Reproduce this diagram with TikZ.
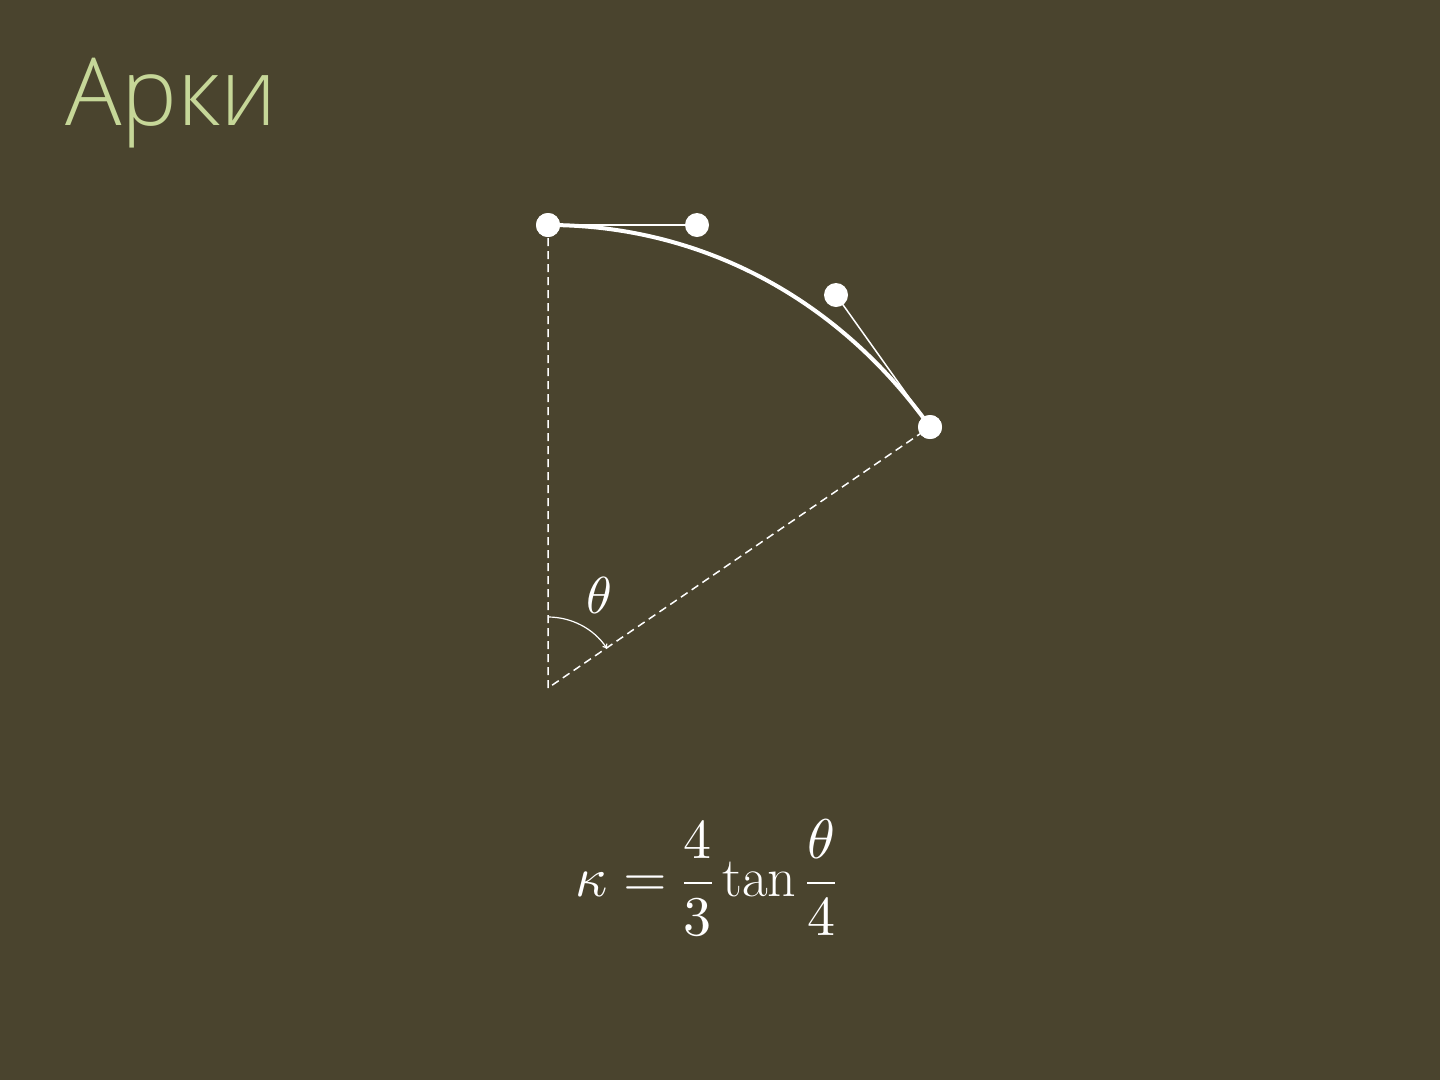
\documentclass[tikz,border=0pt]{standalone}
\usepackage{fontspec}
\usepackage{unicode-math}
\setmathfont{Latin Modern Math}
\newfontfamily\titlefont{Open Sans Light}
\usetikzlibrary{arrows.meta}
\definecolor{bg}{RGB}{74,68,46}
\definecolor{titlegreen}{RGB}{198,215,152}
\tikzset{
  dot/.style={circle,fill=white,inner sep=0pt,minimum size=24pt},
  dashline/.style={white,line width=1.5pt,dash pattern=on 8pt off 5pt},
  handle/.style={white,line width=1.5pt},
  arcline/.style={white,line width=4pt},
  mathlbl/.style={white,font=\fontsize{52}{60}\selectfont},
  formulalbl/.style={white,font=\fontsize{56}{64}\selectfont}
}
\begin{document}
\begin{tikzpicture}[x=1pt,y=-1pt]
\fill[bg] (0,0) rectangle (1440,1080);
\useasboundingbox (0,0) rectangle (1440,1080);
\node[anchor=base west,inner sep=0pt,text=titlegreen,font=\titlefont\fontsize{94}{110}\selectfont] (title) at (65,125) {Арки};
\coordinate (O) at (548,688);
\node[dot] (A) at (548,225) {};
\node[dot] (C1) at (697,225) {};
\node[dot] (C2) at (836,295) {};
\node[dot] (B) at (930,427) {};
\draw[dashline] (A.center) -- (O) -- (B.center);
\draw[handle] (A.center) -- (C1.center);
\draw[handle] (B.center) -- (C2.center);
\draw[arcline] (A.center) .. controls (C1.center) and (C2.center) .. (B.center);
\node[dot] at (A) {};
\node[dot] at (B) {};
\coordinate (angstart) at (548,617);
\draw[white,line width=1.2pt,-{Straight Barb[length=3pt,width=5pt]}] (angstart) arc[start angle=-90,end angle=-34,radius=71];
\node[mathlbl] (theta) at (599,595) {$\theta$};
\node[formulalbl] (formula) at (706,878) {$\displaystyle \kappa=\frac{4}{3}\tan\frac{\theta}{4}$};
\end{tikzpicture}
\end{document}
